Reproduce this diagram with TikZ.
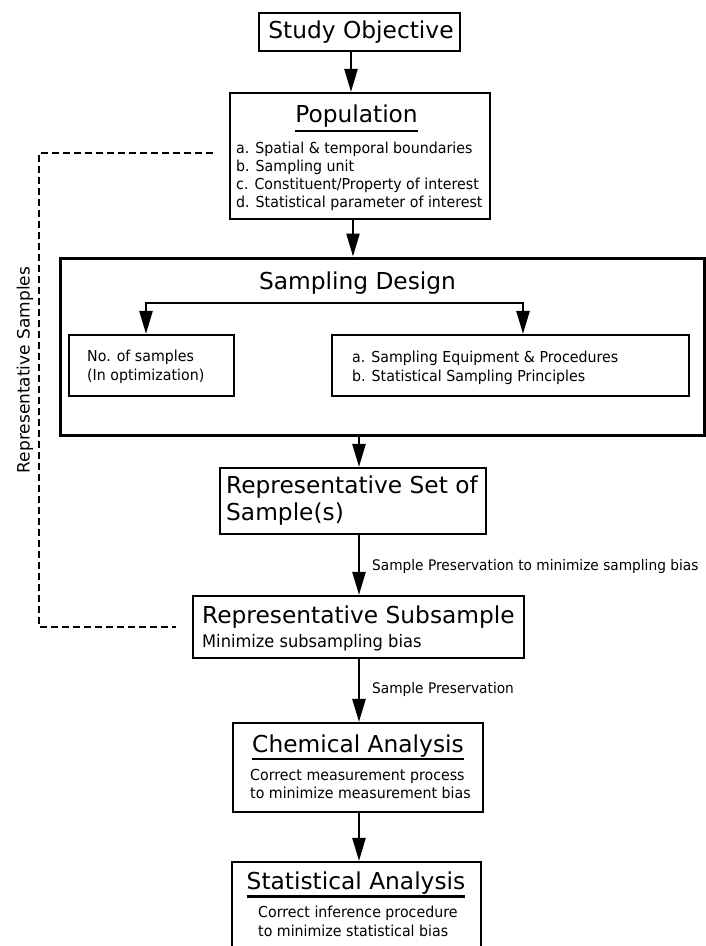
\documentclass[tikz,border=0pt]{standalone}
\usepackage{fontspec}
\setmainfont{DejaVu Sans}
\newfontfamily\narrowfont[FakeStretch=0.94]{DejaVu Sans}
\usetikzlibrary{arrows.meta,calc}
\begin{document}
\begin{tikzpicture}[x=1pt,y=-1pt,
  box/.style={draw, line width=2.1pt, inner sep=0pt, rectangle, line join=miter},
  bigbox/.style={box, line width=3pt},
  ttl/.style={font=\fontsize{23.3}{28}\selectfont, inner sep=0pt},
  txt/.style={font=\narrowfont\fontsize{15.1}{17}\selectfont, inner sep=0pt, anchor=base west},
  elbl/.style={font=\narrowfont\fontsize{14.6}{17}\selectfont, inner sep=0pt, anchor=base west},
  sub/.style={font=\narrowfont\fontsize{17.3}{19}\selectfont, inner sep=0pt, anchor=base west},
  arr/.style={line width=2.4pt, -{Triangle[length=23pt,width=13pt]}},
  uline/.style={line width=2.2pt},
  fbdash/.style={line width=2pt, dash pattern=on 7pt off 4pt}]
\useasboundingbox (0,0) rectangle (706,946);
\clip (0,0) rectangle (706,946);

% Study Objective
\node[box, minimum width=201pt, minimum height=38pt] (so) at (359.5,32) {};
\node[ttl, anchor=base] (sot) at (361,38.5) {Study Objective};

% Population
\node[box, minimum width=260pt, minimum height=126pt] (pop) at (360,156) {};
\node[ttl, anchor=base] (popt) at (356.5,122) {Population};
\draw[uline] ([yshift=-9pt]popt.base west) -- ([yshift=-9pt]popt.base east);
\node[txt] (pa) at (236,153.5) {a. Spatial \& temporal boundaries};
\node[txt] (pb) at (236,171.5) {b. Sampling unit};
\node[txt] (pc) at (236,189.5) {c. Constituent/Property of interest};
\node[txt] (pd) at (236,207.5) {d. Statistical parameter of interest};

% Sampling Design
\node[bigbox, minimum width=644pt, minimum height=177pt] (sd) at (382,346.5) {};
\node[ttl, anchor=base] (sdt) at (357.5,289) {Sampling Design};
\node[box, minimum width=165pt, minimum height=61pt] (nos) at (151.5,365.5) {};
\node[txt] (nosa) at (87,361) {No. of samples};
\node[txt] (nosb) at (87,380) {(In optimization)};
\node[box, minimum width=357pt, minimum height=61pt] (seq) at (510.5,365.5) {};
\node[txt] (seqa) at (352,362) {a. Sampling Equipment \& Procedures};
\node[txt] (seqb) at (352,381) {b. Statistical Sampling Principles};
\coordinate (bm) at (335,303);
\draw[arr] (bm) -| ([xshift=-5.5pt]nos.north);
\draw[arr] (bm) -| ([xshift=12.5pt]seq.north);

% Representative Set of Samples
\node[box, minimum width=266pt, minimum height=66pt] (rset) at (353,501) {};
\node[ttl, anchor=base west] (rseta) at (226,493.5) {Representative Set of};
\node[ttl, anchor=base west] (rsetb) at (226,520) {Sample(s)};

% Representative Subsample
\node[box, minimum width=331pt, minimum height=62pt] (rsub) at (358.5,627) {};
\node[ttl, anchor=base west] (rsubt) at (202,623.5) {Representative Subsample};
\node[sub] (rsubs) at (202,647) {Minimize subsampling bias};

% Chemical Analysis
\node[box, minimum width=250pt, minimum height=89pt] (chem) at (358,767.5) {};
\node[ttl, anchor=base] (chemt) at (358,752) {Chemical Analysis};
\draw[uline] ([yshift=-7pt]chemt.base west) -- ([yshift=-7pt]chemt.base east);
\node[txt] (chema) at (250,780) {Correct measurement process};
\node[txt] (chemb) at (250,798.5) {to minimize measurement bias};

% Statistical Analysis
\node[box, minimum width=249pt, minimum height=108pt] (stat) at (356.5,916) {};
\node[ttl, anchor=base] (statt) at (356,889.5) {Statistical Analysis};
\draw[uline] ([yshift=-7pt]statt.base west) -- ([yshift=-7pt]statt.base east);
\node[txt] (stata) at (258,917) {Correct inference procedure};
\node[txt] (statb) at (258,936) {to minimize statistical bias};

% main arrows
\draw[arr] ([xshift=-8.5pt]so.south) -- ([xshift=-8.5pt]so.south |- pop.north);
\draw[arr] ([xshift=-7pt]pop.south) -- ([xshift=-7pt]pop.south |- sd.north);
\draw[arr] ([xshift=-23pt]sd.south) -- ([xshift=-23pt]sd.south |- rset.north);
\draw[arr] ([xshift=6pt]rset.south) -- ([xshift=6pt]rset.south |- rsub.north);
\draw[arr] ([xshift=0.5pt]rsub.south) -- ([xshift=0.5pt]rsub.south |- chem.north);
\draw[arr] ([xshift=1pt]chem.south) -- ([xshift=1pt]chem.south |- stat.north);
\node[elbl] (lbl1) at (372,570) {Sample Preservation to minimize sampling bias};
\node[elbl] (lbl2) at (372,693) {Sample Preservation};

% dashed feedback
\coordinate (d1) at (213,153);
\coordinate (dc1) at (39,153);
\coordinate (dc2) at (39,627);
\coordinate (d2) at (176,627);
\draw[fbdash] (d1) -- (dc1) -- (dc2) -- (d2);
\node[rotate=90, inner sep=0pt, font=\fontsize{17}{20}\selectfont] (rs) at (25,370) {Representative Samples};
\end{tikzpicture}
\end{document}
